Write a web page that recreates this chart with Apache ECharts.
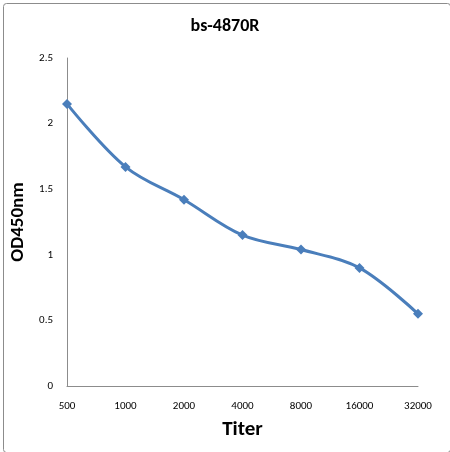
<!DOCTYPE html>
<html>
<head>
<meta charset="utf-8">
<script src="https://cdn.jsdelivr.net/npm/echarts@6/dist/echarts.min.js"></script>
<style>
  html, body { margin: 0; padding: 0; background: #fff; }
  #chart { width: 450px; height: 452px; }
</style>
</head>
<body>
<div id="chart"></div>
<script>
var titers = ['500', '1000', '2000', '4000', '8000', '16000', '32000'];
var od450 = [2.15, 1.67, 1.42, 1.15, 1.04, 0.90, 0.55];

var myChart = echarts.init(document.getElementById('chart'));
var font = 'Calibri, Carlito, "Open Sans", "DejaVu Sans", sans-serif';
option = {
    animation: false,
    backgroundColor: '#fff',
    graphic: [{
        type: 'rect',
        left: 1, top: 1,
        shape: { width: 447, height: 449, r: 3 },
        style: { fill: 'none', stroke: '#8c8c8c', lineWidth: 1 }
    }],
    title: {
        text: 'bs-4870R',
        left: 'center',
        top: 12,
        textStyle: { fontFamily: font, fontSize: 18, fontWeight: 'bold', color: '#000' }
    },
    grid: { left: 67, top: 58, right: 32, bottom: 66 },
    xAxis: {
        type: 'category',
        data: titers,
        boundaryGap: false,
        name: 'Titer',
        nameLocation: 'middle',
        nameGap: 33,
        nameTextStyle: { fontFamily: font, fontSize: 21, fontWeight: 'bold', color: '#000' },
        axisLine: { lineStyle: { color: '#8c8c8c', width: 1 } },
        axisTick: { show: false },
        axisLabel: { margin: 15, fontFamily: font, fontSize: 11, color: '#000' },
        splitLine: { show: false }
    },
    yAxis: {
        type: 'value',
        min: 0,
        max: 2.5,
        interval: 0.5,
        name: 'OD450nm',
        nameLocation: 'middle',
        nameGap: 38,
        nameTextStyle: { fontFamily: font, fontSize: 19, fontWeight: 'bold', color: '#000' },
        axisLine: { show: true, lineStyle: { color: '#8c8c8c', width: 1 } },
        axisTick: { show: false },
        axisLabel: { margin: 14, fontFamily: font, fontSize: 11, color: '#000' },
        splitLine: { show: false }
    },
    series: [{
        type: 'line',
        data: od450,
        smooth: 0.35,
        symbol: 'diamond',
        symbolSize: 10,
        lineStyle: { color: '#4a7ebb', width: 3 },
        itemStyle: { color: '#4a7ebb' }
    }]
};
myChart.setOption(option);
</script>
</body>
</html>
